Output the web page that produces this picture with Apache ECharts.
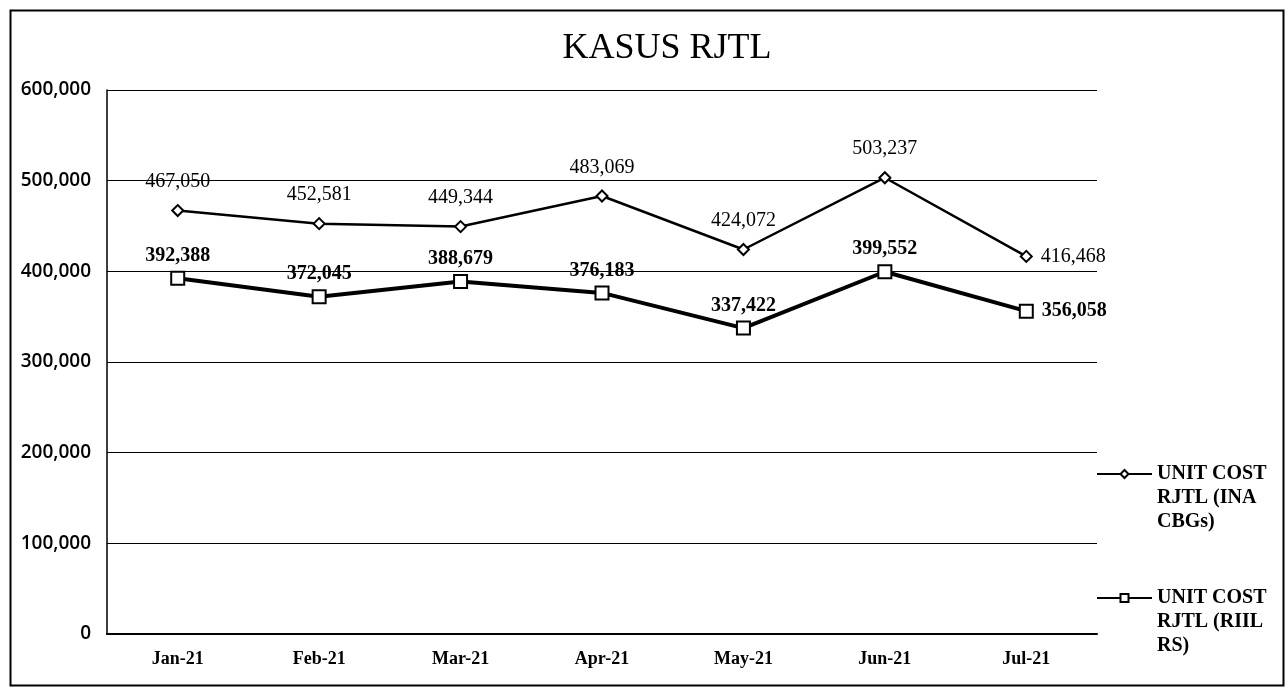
<!DOCTYPE html>
<html>
<head>
<meta charset="utf-8">
<script src="https://cdn.jsdelivr.net/npm/echarts@6/dist/echarts.min.js"></script>
<style>html,body{margin:0;padding:0;background:#fff}#c{width:1288px;height:689px}</style>
</head>
<body>
<div id="c"></div>
<script>
const categories = ['Jan-21','Feb-21','Mar-21','Apr-21','May-21','Jun-21','Jul-21'];
const inaCbgs = [467050, 452581, 449344, 483069, 424072, 503237, 416468];
const riilRs = [392388, 372045, 388679, 376183, 337422, 399552, 356058];
const yTicks = [0, 100000, 200000, 300000, 400000, 500000, 600000];
const seriesNames = ['UNIT COST RJTL (INA CBGs)', 'UNIT COST RJTL (RIIL RS)'];
const legendWrapped = {
  'UNIT COST RJTL (INA CBGs)': '\n\nUNIT COST\nRJTL (INA\nCBGs)',
  'UNIT COST RJTL (RIIL RS)': '\n\nUNIT COST\nRJTL (RIIL\nRS)'
};
const fmt = v => Number(v).toLocaleString('en-US');
const SERIF = '"Liberation Serif", "Times New Roman", serif';
const SANS = '"Open Sans", "DejaVu Sans", sans-serif';

const chart = echarts.init(document.getElementById('c'));
function labelCfg(weight, dist) {
  return {
    show: true, position: 'top', distance: dist,
    fontFamily: SERIF, fontSize: 20, fontWeight: weight, color: '#000',
    formatter: p => fmt(p.value)
  };
}
function buildData(vals) {
  return vals.map((v, i) => i === vals.length - 1
    ? { value: v, label: { position: 'right', distance: 8 } }
    : v);
}
chart.setOption({
  animation: false,
  backgroundColor: '#fff',
  title: {
    text: 'KASUS RJTL', left: 662, textAlign: 'center', top: 26,
    textStyle: { fontFamily: SERIF, fontSize: 36, fontWeight: 'normal', color: '#000' }
  },
  graphic: [{
    type: 'rect', left: 8, top: 8, silent: true,
    shape: { width: 1273, height: 675 },
    style: { fill: 'none', stroke: '#000', lineWidth: 2 }
  }],
  legend: {
    orient: 'vertical', left: 1091, top: 409, itemGap: 4,
    itemWidth: 55, itemHeight: 10,
    data: seriesNames,
    formatter: n => legendWrapped[n],
    textStyle: { fontFamily: SERIF, fontSize: 20, color: '#000', lineHeight: 24, fontWeight: 'bold' }
  },
  grid: { left: 107, right: 191, top: 90, bottom: 55, containLabel: false },
  xAxis: {
    type: 'category', data: categories, boundaryGap: true,
    axisLine: { show: true, lineStyle: { color: '#000', width: 2 } },
    axisTick: { show: false },
    axisLabel: { fontFamily: SERIF, fontSize: 18, fontWeight: 'bold', color: '#000', margin: 16 }
  },
  yAxis: {
    type: 'value', min: yTicks[0], max: yTicks[yTicks.length - 1], interval: 100000,
    axisLine: { show: true, lineStyle: { color: '#000', width: 1.5 } },
    axisTick: { show: false },
    splitLine: { show: true, lineStyle: { color: '#000', width: 1.2 } },
    axisLabel: { fontFamily: SANS, fontSize: 19, fontWeight: 600, color: '#000', margin: 16, formatter: v => fmt(v) }
  },
  series: [{
    name: seriesNames[0], type: 'line', data: buildData(inaCbgs),
    symbol: 'emptyDiamond', symbolSize: 11,
    lineStyle: { color: '#000', width: 2.5 },
    itemStyle: { color: '#000', borderColor: '#000', borderWidth: 1.5 },
    label: labelCfg('normal', 12)
  }, {
    name: seriesNames[1], type: 'line', data: buildData(riilRs),
    symbol: 'emptyRect', symbolSize: 13,
    lineStyle: { color: '#000', width: 4 },
    itemStyle: { color: '#000', borderColor: '#000', borderWidth: 1.5 },
    label: labelCfg('bold', 5)
  }]
});
</script>
</body>
</html>
